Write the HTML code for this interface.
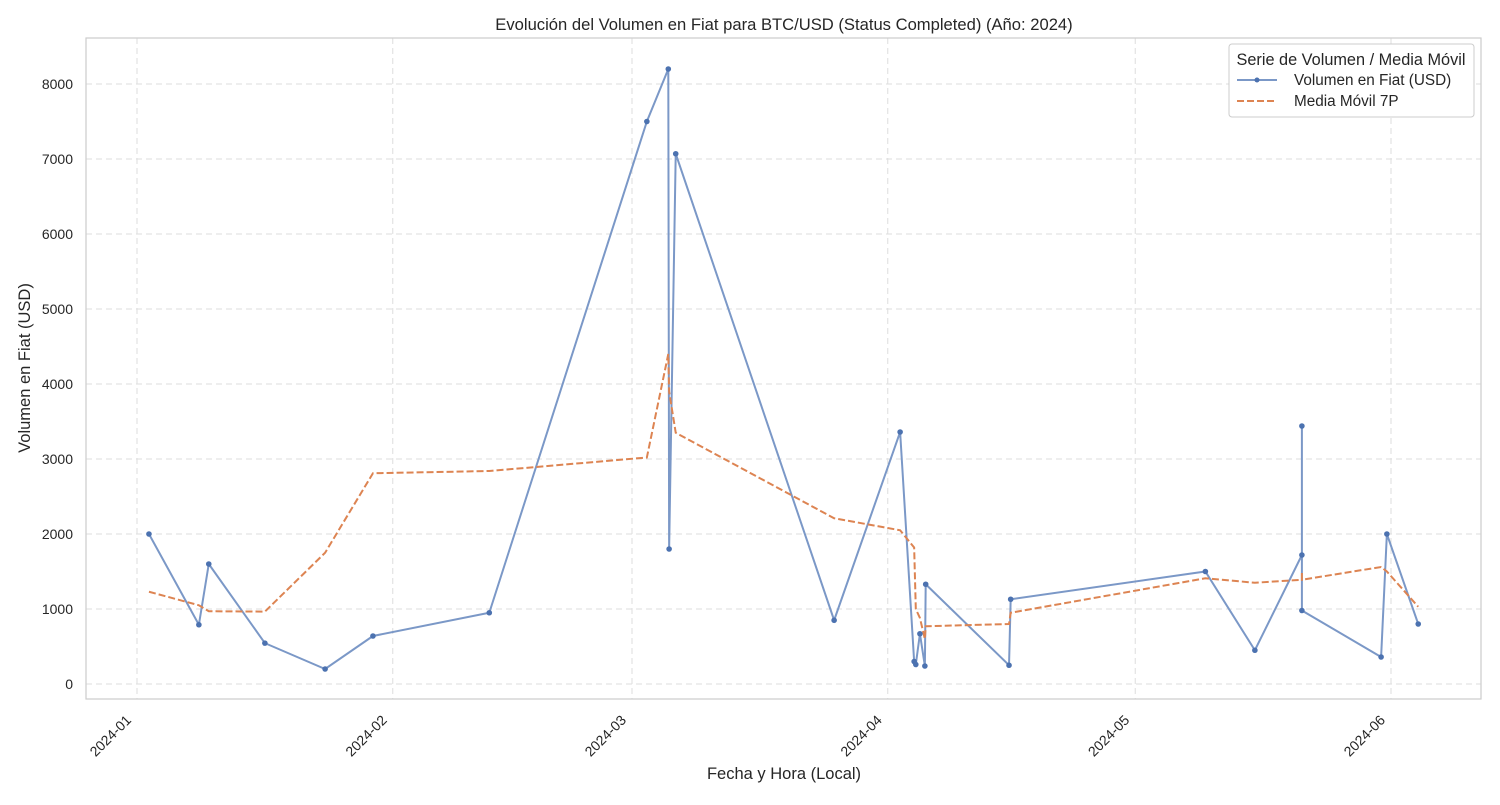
<!DOCTYPE html>
<html><head><meta charset="utf-8"><style>
body{margin:0;background:#fff;font-family:"Liberation Sans","DejaVu Sans",sans-serif}
svg text{font-family:"Liberation Sans","DejaVu Sans",sans-serif;fill:#262626}
</style></head><body>
<svg id="chart" width="1500" height="800">
<text x="784" y="30" text-anchor="middle" font-size="16.6">Evolución del Volumen en Fiat para BTC/USD (Status Completed) (Año: 2024)</text>
<g id="grid"></g>
<rect x="86" y="38" width="1395" height="661" fill="none" stroke="#cccccc" stroke-width="1.2"/>
<g id="marks"></g>
<g id="axes"></g>
<text x="784" y="779" text-anchor="middle" font-size="16.5">Fecha y Hora (Local)</text>
<text transform="translate(30,368) rotate(-90)" text-anchor="middle" font-size="16.5">Volumen en Fiat (USD)</text>
<g>
<rect x="1229" y="44" width="245" height="73" fill="#fff" stroke="#cccccc" rx="3"/>
<text x="1351" y="65" text-anchor="middle" font-size="16.3">Serie de Volumen / Media Móvil</text>
<g><line x1="1237" y1="80" x2="1277" y2="80" stroke="#7b98c7" stroke-width="2"/><circle cx="1257" cy="80" r="2.5" fill="#4c72b0"/><text x="1294" y="85" font-size="15.3">Volumen en Fiat (USD)</text></g>
<g><line x1="1237" y1="101" x2="1277" y2="101" stroke="#dd8452" stroke-width="2" stroke-dasharray="7,3"/><text x="1294" y="106" font-size="15.3">Media Móvil 7P</text></g>
</g>
</svg>
<script>
const days=[1.45,7.5,8.7,15.5,22.8,28.6,42.7,61.8,64.4,64.5,65.3,84.5,92.5,94.2,94.4,94.9,95.5,95.6,105.7,105.9,129.5,135.5,141.2,141.2,141.2,150.8,151.5,155.3];
const volume=[2000,790,1600,545,200,640,950,7500,8200,1800,7070,850,3360,300,260,670,240,1330,250,1130,1500,450,1720,3440,980,360,2000,800];
const movingAvg=[1230,1050,970,965,1750,2810,2840,3020,4400,3900,3350,2210,2050,1820,1000,880,600,770,800,950,1410,1350,1390,1500,1390,1560,1500,1030];
const yTicks=[0,1000,2000,3000,4000,5000,6000,7000,8000];
const xTickDays=[0,31,60,91,121,152];
const xTickLabels=["2024-01","2024-02","2024-03","2024-04","2024-05","2024-06"];
const ns="http://www.w3.org/2000/svg";
const X=d=>137+d*8.25, Y=v=>684-v*0.075;
function mk(t,a,p){const e=document.createElementNS(ns,t);for(const k in a)e.setAttribute(k,a[k]);p.appendChild(e);return e;}
const grid=document.getElementById('grid'),axes=document.getElementById('axes'),marks=document.getElementById('marks');
yTicks.forEach(v=>{
 const l=mk('line',{x1:86,x2:1481,y1:Y(v),y2:Y(v),stroke:'#dddddd','stroke-dasharray':'6,4'},grid);
 
 
 const t=mk('text',{x:73,y:Y(v)+5,'text-anchor':'end','font-size':14},axes);t.textContent=v;
 
 
});
xTickDays.forEach((d,i)=>{
 const l=mk('line',{x1:X(d),x2:X(d),y1:38,y2:699,stroke:'#dddddd','stroke-dasharray':'6,4'},grid);
 
 
 const t=mk('text',{transform:`translate(${X(d)-5},${721}) rotate(-45)`,'text-anchor':'end','font-size':14},axes);t.textContent=xTickLabels[i];
 
 
});
const vl=mk('polyline',{points:days.map((d,i)=>X(d)+','+Y(volume[i])).join(' '),fill:'none',stroke:'#7b98c7','stroke-width':2},marks);


const ml=mk('polyline',{points:days.map((d,i)=>X(d)+','+Y(movingAvg[i])).join(' '),fill:'none',stroke:'#dd8452','stroke-width':2,'stroke-dasharray':'7,3'},marks);


days.forEach((d,i)=>{
 const c=mk('circle',{cx:X(d),cy:Y(volume[i]),r:2.8,fill:'#4c72b0'},marks);
 
 
});
</script>
</body></html>
